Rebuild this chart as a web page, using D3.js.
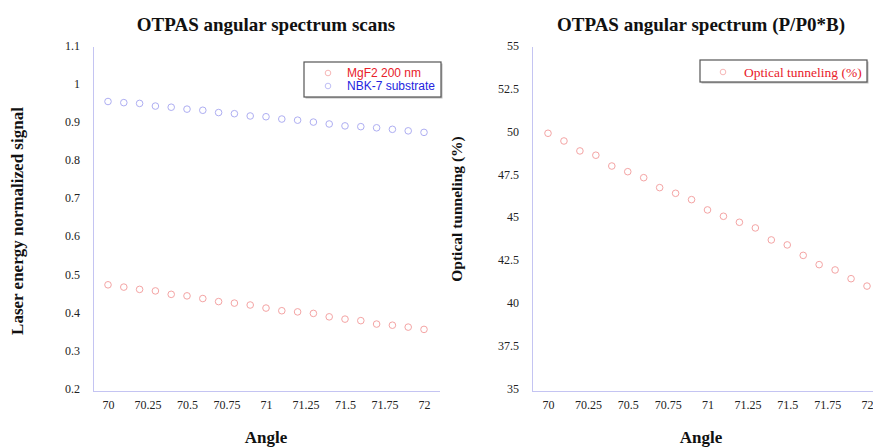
<!DOCTYPE html>
<meta charset="utf-8">
<head>
    <style>
        body {margin: 0; background: #fff;}
        .tick text {font-family: "Liberation Serif", serif; font-size: 12px; fill: #222;}
        .title {font-family: "Liberation Serif", serif; font-weight: bold; font-size: 19px; fill: #111;}
        .axtitle {font-family: "Liberation Serif", serif; font-weight: bold; font-size: 17px; fill: #111;}
        .axline {stroke: #c4c4f2; stroke-width: 1;}
    </style>
    <script src="https://d3js.org/d3.v7.min.js"></script>
</head>
<body>
<script>

    var angles = [70, 70.1, 70.2, 70.3, 70.4, 70.5, 70.6, 70.7, 70.8, 70.9, 71,
                  71.1, 71.2, 71.3, 71.4, 71.5, 71.6, 71.7, 71.8, 71.9, 72];
    var mgf2 = [0.476, 0.470, 0.464, 0.460, 0.451, 0.447, 0.440, 0.432, 0.428, 0.423, 0.415,
                0.408, 0.405, 0.401, 0.392, 0.386, 0.382, 0.373, 0.370, 0.365, 0.359];
    var nbk7 = [0.957, 0.954, 0.952, 0.945, 0.942, 0.937, 0.934, 0.928, 0.925, 0.919, 0.917,
                0.911, 0.908, 0.903, 0.898, 0.893, 0.891, 0.888, 0.884, 0.880, 0.876];
    var tunneling = [49.97, 49.52, 48.94, 48.69, 48.06, 47.73, 47.38, 46.80, 46.47, 46.10, 45.50,
                     45.13, 44.78, 44.45, 43.75, 43.46, 42.85, 42.31, 42.00, 41.49, 41.06];
    var xTicks = [70, 70.25, 70.5, 70.75, 71, 71.25, 71.5, 71.75, 72];
    var yTicksLeft = [0.2, 0.3, 0.4, 0.5, 0.6, 0.7, 0.8, 0.9, 1, 1.1];
    var yTicksRight = [35, 37.5, 40, 42.5, 45, 47.5, 50, 52.5, 55];

    var svg = d3.select("body").append("svg")
        .attr("width", 873)
        .attr("height", 448);

    function panel(p) {
        var g = svg.append("g");

        var x = d3.scaleLinear().domain([70, 72]).range([p.x0, p.x1]);
        var y = d3.scaleLinear().domain(p.ydomain).range([p.bottom, p.top]);

        // axis lines
        g.append("line").attr("class", "axline")
            .attr("x1", p.axisX + .5).attr("x2", p.axisX + .5)
            .attr("y1", p.top).attr("y2", p.bottom + 1);
        g.append("line").attr("class", "axline")
            .attr("x1", p.axisX).attr("x2", p.axisEnd)
            .attr("y1", p.bottom + 1.5).attr("y2", p.bottom + 1.5);

        var xa = g.append("g")
            .attr("transform", "translate(0," + (p.bottom + 7) + ")")
            .call(d3.axisBottom(x).tickValues(xTicks).tickSize(0).tickFormat(d3.format("")));
        xa.select(".domain").remove();

        var ya = g.append("g")
            .attr("transform", "translate(" + (p.axisX - 10) + ",0)")
            .call(d3.axisLeft(y).tickValues(p.yticks).tickSize(0).tickFormat(d3.format("")));
        ya.select(".domain").remove();
        ya.selectAll("text").attr("dy", "0.2em");

        p.series.forEach(function(s) {
            g.append("g").selectAll("circle")
                .data(s.values)
              .enter().append("circle")
                .attr("cx", function(d, i) {return x(angles[i])})
                .attr("cy", function(d) {return y(d)})
                .attr("r", 3.3)
                .attr("fill", "none")
                .attr("stroke", s.color)
                .attr("stroke-width", 1);
        });

        g.append("text").attr("class", "title")
            .attr("x", p.titleX).attr("y", 31)
            .attr("text-anchor", "middle")
            .text(p.title);

        g.append("text").attr("class", "axtitle")
            .attr("x", p.titleX).attr("y", 443)
            .attr("text-anchor", "middle")
            .text("Angle");

        g.append("text").attr("class", "axtitle")
            .attr("transform", "translate(" + p.ytitleX + "," + p.ytitleY + ") rotate(-90)")
            .attr("text-anchor", "middle")
            .style("font-size", p.ytitleSize)
            .text(p.ytitle);

        // legend
        var lg = g.append("g").attr("transform", "translate(" + p.legend.x + "," + p.legend.y + ")");
        lg.append("rect")
            .attr("x", 1.5).attr("y", 1.5)
            .attr("width", p.legend.w).attr("height", p.legend.h)
            .attr("fill", "#bbb");
        lg.append("rect")
            .attr("width", p.legend.w).attr("height", p.legend.h)
            .attr("fill", "#fff").attr("stroke", "#555").attr("stroke-width", 1.2);
        p.series.forEach(function(s, i) {
            lg.append("circle")
                .attr("cx", p.legend.mx).attr("cy", p.legend.ry + i * 13)
                .attr("r", 2.8)
                .attr("fill", "none").attr("stroke", s.color).attr("stroke-width", 0.8);
            lg.append("text")
                .attr("x", p.legend.tx).attr("y", p.legend.ry + i * 13)
                .attr("dy", "0.35em")
                .style("font-family", p.legend.font)
                .style("font-size", p.legend.size)
                .attr("fill", s.text)
                .text(s.name);
        });
    }

    panel({
        x0: 108, x1: 424, axisX: 93, axisEnd: 440, top: 47, bottom: 390,
        ydomain: [0.2, 1.1], yticks: yTicksLeft,
        title: "OTPAS angular spectrum scans", titleX: 266,
        ytitle: "Laser energy normalized signal", ytitleX: 23, ytitleY: 221, ytitleSize: "17px",
        series: [
            {name: "MgF2 200 nm", values: mgf2, color: "#f4a4a4", text: "#e8202a"},
            {name: "NBK-7 substrate", values: nbk7, color: "#aeaef2", text: "#2424e0"}
        ],
        legend: {x: 304, y: 62, w: 137, h: 35, mx: 24, tx: 43, ry: 11,
                 font: "Liberation Sans, Arial, sans-serif", size: "12px"}
    });

    panel({
        x0: 548, x1: 867, axisX: 532, axisEnd: 873, top: 47, bottom: 390,
        ydomain: [35, 55], yticks: yTicksRight,
        title: "OTPAS angular spectrum (P/P0*B)", titleX: 701,
        ytitle: "Optical tunneling (%)", ytitleX: 462, ytitleY: 209, ytitleSize: "15.5px",
        series: [
            {name: "Optical tunneling (%)", values: tunneling, color: "#f4a4a4", text: "#e8202a"}
        ],
        legend: {x: 700, y: 60, w: 167, h: 22, mx: 23, tx: 44, ry: 12,
                 font: "Liberation Serif, serif", size: "13.5px"}
    });

</script>
</body>
